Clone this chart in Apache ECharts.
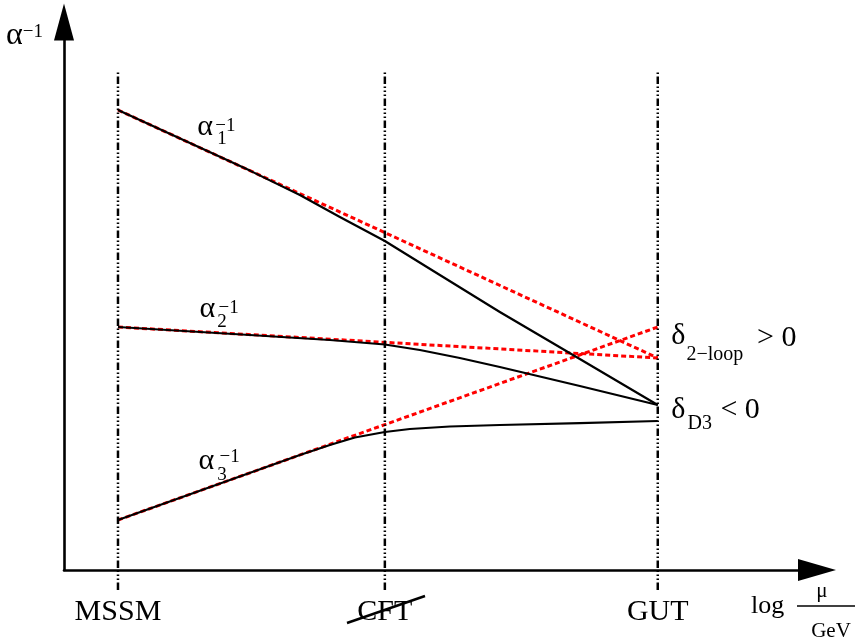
<!DOCTYPE html>
<html>
<head>
<meta charset="utf-8">
<script src="https://cdn.jsdelivr.net/npm/echarts@6/dist/echarts.min.js"></script>
<style>
  html, body { margin: 0; padding: 0; background: #fff; }
  #chart { width: 855px; height: 639px; }
</style>
</head>
<body>
<div id="chart"></div>
<script>
  // scales marked on the log(mu/GeV) axis
  const scaleNames = ['MSSM', 'CFT', 'GUT']
  const scalePos = [1, 5.944, 11]

  // solid: running with D3 threshold
  const a1X = [1, 3.444, 4.370, 5.111, 5.944, 6.963, 8.074, 9.556, 11]
  const a1Y = [8.394, 7.288, 6.843, 6.442, 6.004, 5.383, 4.708, 3.850, 3.011]
  const a2X = [1, 3.444, 4.926, 5.944, 6.593, 7.333, 8.074, 9.556, 11]
  const a2Y = [4.434, 4.288, 4.197, 4.115, 4.015, 3.869, 3.704, 3.358, 3.011]
  const a3X = [1, 4.370, 4.926, 5.389, 5.944, 6.407, 7.148, 8.074, 9.556, 11]
  const a3Y = [0.912, 2.099, 2.281, 2.418, 2.518, 2.573, 2.619, 2.646, 2.682, 2.719]

  // dotted: plain 2-loop running
  const loopX = [1, 11]
  const r1Y = [8.394, 3.869]
  const r2Y = [4.434, 3.869]
  const r3Y = [0.912, 4.434]

  const FONT = '"Liberation Serif", "Times New Roman", serif'

  // text next to the curves: text, x, y, size
  const notes = [
    ['α', 2.48, 8.08, 30], ['1', 2.85, 7.85, 19], ['−1', 2.81, 8.10, 19],
    ['α', 2.52, 4.76, 30], ['2', 2.85, 4.52, 19], ['−1', 2.87, 4.78, 19],
    ['α', 2.50, 1.98, 30], ['3', 2.85, 1.73, 19], ['−1', 2.89, 2.05, 19],
    ['δ', 11.26, 4.26, 30], ['2−loop', 11.54, 3.92, 20], ['> 0', 12.85, 4.22, 30],
    ['δ', 11.26, 2.90, 30], ['D3', 11.56, 2.66, 20], ['< 0', 12.17, 2.90, 30]
  ]

  const pairs = (xs, ys) => xs.map((x, i) => [x, ys[i]])

  const chart = echarts.init(document.getElementById('chart'))

  const solid = (xs, ys) => ({
    type: 'line', xAxisIndex: 0, yAxisIndex: 0, data: pairs(xs, ys),
    symbol: 'none', z: 4,
    lineStyle: { color: '#000', width: 2.2, join: 'round' }
  })
  const dotted = (ys) => ({
    type: 'line', xAxisIndex: 0, yAxisIndex: 0, data: pairs(loopX, ys),
    symbol: 'none', z: 3,
    lineStyle: { color: '#ff0000', width: 3, type: [5, 3] }
  })
  const cutLine = (p) => ({
    type: 'line', xAxisIndex: 1, yAxisIndex: 1, data: [[p, 0], [p, 1]],
    symbol: 'none', z: 5,
    lineStyle: { color: '#000', width: 2.5, type: [7.5, 2.5, 1.5, 2.5, 1.5, 2.5, 1.5, 2.5] }
  })

  const option = {
    animation: false,
    backgroundColor: '#fff',
    grid: [
      { left: 64, right: 38, top: 22, bottom: 69, outerBoundsMode: 'none' },
      { left: 64, right: 38, top: 70, bottom: 49, outerBoundsMode: 'none' }
    ],
    xAxis: [
      {
        type: 'value', gridIndex: 0, min: 0, max: 13.95,
        axisLine: { lineStyle: { color: '#000', width: 2.6 }, symbol: ['none', 'triangle'], symbolSize: [22, 38] },
        axisTick: { show: false },
        splitLine: { show: false },
        axisLabel: {
          customValues: scalePos,
          formatter: v => {
            let k = 0
            scalePos.forEach((p, i) => { if (Math.abs(p - v) < Math.abs(scalePos[k] - v)) k = i })
            return scaleNames[k]
          },
          color: '#000', fontSize: 30, fontFamily: FONT, margin: 27
        }
      },
      { type: 'value', gridIndex: 1, min: 0, max: 13.95, show: false }
    ],
    yAxis: [
      {
        type: 'value', gridIndex: 0, min: 0, max: 10,
        axisLine: { lineStyle: { color: '#000', width: 2.6 }, symbol: ['none', 'triangle'], symbolSize: [20, 37] },
        axisTick: { show: false },
        axisLabel: { show: false },
        splitLine: { show: false },
        name: '{a|α}{p|−1}',
        nameLocation: 'end',
        nameGap: -14,
        nameMoveOverlap: false,
        nameTextStyle: {
          align: 'right', verticalAlign: 'middle', padding: [0, 21, 0, 0],
          fontSize: 30, fontFamily: FONT, color: '#000',
          rich: {
            a: { fontSize: 32, fontFamily: FONT, color: '#000' },
            p: { fontSize: 19, fontFamily: FONT, color: '#000', padding: [0, 0, 8, 0] }
          }
        }
      },
      { type: 'value', gridIndex: 1, min: 0, max: 1, show: false }
    ],
    graphic: [
      // strike through CFT
      { type: 'line', shape: { x1: 347, y1: 623, x2: 425, y2: 596 }, style: { stroke: '#000', lineWidth: 2.5 }, z: 10 },
      // axis title: log mu / GeV
      { type: 'text', x: 751, y: 606, style: { text: 'log', font: '26px ' + FONT, fill: '#000', verticalAlign: 'middle' } },
      { type: 'text', x: 822, y: 591, style: { text: 'μ', font: '21px ' + FONT, fill: '#000', align: 'center', verticalAlign: 'middle' } },
      { type: 'line', shape: { x1: 797, y1: 606, x2: 855, y2: 606 }, style: { stroke: '#000', lineWidth: 1.5 } },
      { type: 'text', x: 831, y: 631, style: { text: 'GeV', font: '21px ' + FONT, fill: '#000', align: 'center', verticalAlign: 'middle' } }
    ],
    series: [
      dotted(r1Y), dotted(r2Y), dotted(r3Y),
      solid(a1X, a1Y), solid(a2X, a2Y), solid(a3X, a3Y),
      ...scalePos.map(cutLine),
      {
        type: 'scatter', xAxisIndex: 0, yAxisIndex: 0, silent: true,
        symbolSize: 1, itemStyle: { color: 'rgba(0,0,0,0)', opacity: 1 }, z: 6,
        data: notes.map(n => ({
          value: [n[1], n[2]],
          label: {
            show: true, formatter: n[0], position: [0, 0],
            align: 'left', verticalAlign: 'middle', opacity: 1,
            textBorderWidth: 0,
            fontSize: n[3], fontFamily: FONT, color: '#000000'
          }
        }))
      }
    ]
  }

  chart.setOption(option)
</script>
</body>
</html>
